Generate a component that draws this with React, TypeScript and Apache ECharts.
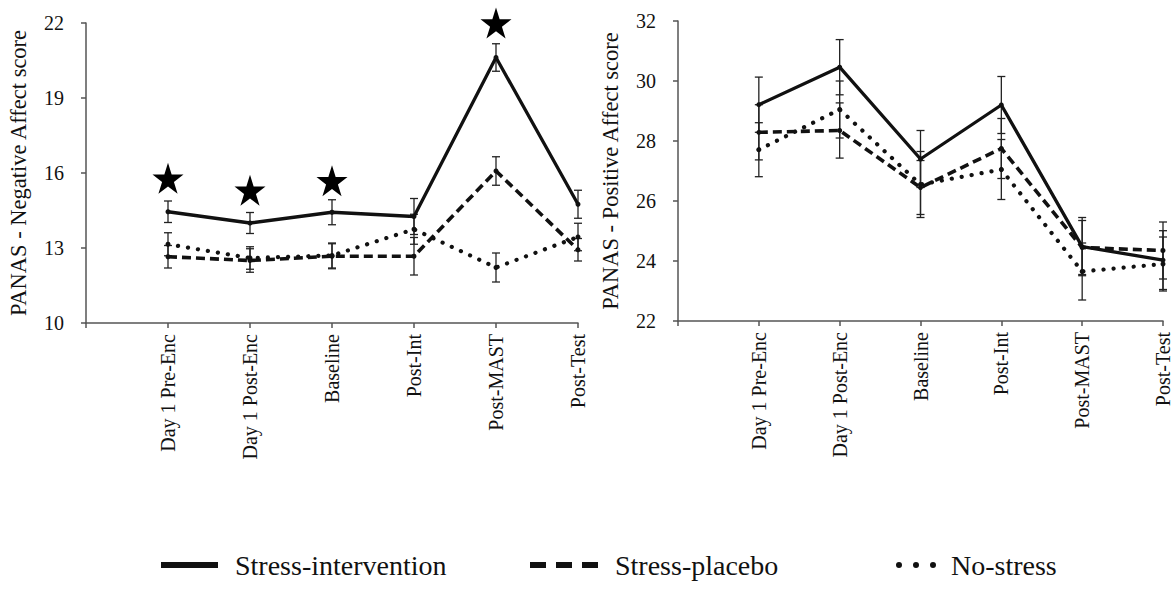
import React, { useEffect, useRef } from "react";
import * as echarts from "echarts";

const CATEGORIES = ["Day 1 Pre-Enc", "Day 1 Post-Enc", "Baseline", "Post-Int", "Post-MAST", "Post-Test"];
const AXIS_CATEGORIES = ["", ...CATEGORIES];

const SERIES_NAMES = ["Stress-intervention", "Stress-placebo", "No-stress"];

// Negative affect (left panel)
const NA_INTERVENTION = [14.45, 14.0, 14.43, 14.26, 20.62, 14.75];
const NA_INTERVENTION_ERR = [0.43, 0.42, 0.5, 0.72, 0.55, 0.56];
const NA_PLACEBO = [12.65, 12.5, 12.67, 12.67, 16.08, 12.93];
const NA_PLACEBO_ERR = [0.45, 0.47, 0.5, 0.75, 0.57, 0.45];
const NA_NOSTRESS = [13.15, 12.6, 12.7, 13.75, 12.22, 13.44];
const NA_NOSTRESS_ERR = [0.46, 0.45, 0.5, 0.6, 0.58, 0.55];
const NA_STAR_CATEGORY = [1, 2, 3, 5];
const NA_STAR_Y = [15.79, 15.31, 15.69, 22.0];
const NA_TICKS = { min: 10, max: 22, interval: 3 };

// Positive affect (right panel)
const PA_INTERVENTION = [29.21, 30.46, 27.4, 29.2, 24.48, 24.03];
const PA_INTERVENTION_ERR = [0.92, 0.92, 0.95, 0.95, 0.97, 0.98];
const PA_PLACEBO = [28.29, 28.35, 26.45, 27.75, 24.45, 24.35];
const PA_PLACEBO_ERR = [0.92, 0.92, 0.9, 1.0, 0.9, 0.95];
const PA_NOSTRESS = [27.71, 29.05, 26.55, 27.05, 23.65, 23.9];
const PA_NOSTRESS_ERR = [0.9, 0.95, 1.1, 1.0, 0.95, 0.9];
const PA_TICKS = { min: 22, max: 32, interval: 2 };

const FONT = "'Liberation Serif', 'Times New Roman', serif";
const INK = "#111";
const AXIS_COLOR = "#555";
const STAR_PATH =
  "path://M50,0L61.2,34.5L97.6,34.5L68.2,55.9L79.4,90.5L50,69.1L20.6,90.5L31.8,55.9L2.4,34.5L38.8,34.5Z";

const LINE_STYLES = [
  { type: "solid", width: 3.3 },
  { type: [9, 5], width: 3.6 },
  { type: [0.1, 10], width: 4.2, cap: "round" },
];

function toPairs(values: number[]) {
  return values.map((v, i) => [i + 1, v]);
}
function toErr(values: number[], errs: number[]) {
  return values.map((v, i) => [i + 1, v - errs[i], v + errs[i]]);
}

function errorRender(params: any, api: any) {
  const x = api.value(0);
  const lo = api.coord([x, api.value(1)]);
  const hi = api.coord([x, api.value(2)]);
  const hw = 4;
  const style = { stroke: "#222", lineWidth: 1.3 };
  return {
    type: "group",
    children: [
      { type: "line", shape: { x1: lo[0], y1: lo[1], x2: hi[0], y2: hi[1] }, style },
      { type: "line", shape: { x1: lo[0] - hw, y1: lo[1], x2: lo[0] + hw, y2: lo[1] }, style },
      { type: "line", shape: { x1: hi[0] - hw, y1: hi[1], x2: hi[0] + hw, y2: hi[1] }, style },
    ],
  };
}

function panelSeries(idx: number, means: number[][], errs: number[][]) {
  const out: any[] = [];
  means.forEach((m, k) => {
    out.push({
      type: "custom",
      name: "err-" + idx + "-" + k,
      xAxisIndex: idx,
      yAxisIndex: idx,
      renderItem: errorRender,
      encode: { x: 0, y: [1, 2] },
      data: toErr(m, errs[k]),
      z: 1,
      silent: true,
    });
  });
  means.forEach((m, k) => {
    out.push({
      type: "line",
      name: SERIES_NAMES[k],
      xAxisIndex: idx,
      yAxisIndex: idx,
      data: toPairs(m),
      symbol: "circle",
      symbolSize: 5,
      itemStyle: { color: INK },
      lineStyle: { color: INK, ...LINE_STYLES[k] },
      z: 3,
    });
  });
  return out;
}

function xAxisFor(gridIndex: number) {
  return {
    type: "category",
    gridIndex,
    data: AXIS_CATEGORIES,
    boundaryGap: false,
    axisLine: { lineStyle: { color: AXIS_COLOR, width: 1.5 } },
    axisTick: { show: true, length: 5, alignWithLabel: true, lineStyle: { color: AXIS_COLOR, width: 1.5 } },
    axisLabel: { rotate: 90, margin: 11, fontFamily: FONT, fontSize: 20, color: INK, interval: 0 },
    splitLine: { show: false },
  };
}

function yAxisFor(gridIndex: number, ticks: any, name: string) {
  return {
    type: "value",
    gridIndex,
    min: ticks.min,
    max: ticks.max,
    interval: ticks.interval,
    name,
    nameLocation: "middle",
    nameGap: 56,
    nameTextStyle: { fontFamily: FONT, fontSize: 22.5, color: INK },
    axisLine: { show: true, lineStyle: { color: AXIS_COLOR, width: 1.5 } },
    axisTick: { show: true, length: 5, lineStyle: { color: AXIS_COLOR, width: 1.5 } },
    axisLabel: { margin: 22, fontFamily: FONT, fontSize: 20, color: INK },
    splitLine: { show: false },
  };
}

const LEGEND_ICONS = [
  "path://M0,0H57V6H0Z",
  "path://M0,0H16V6H0Z M26,0H42V6H26Z M52,0H68V6H52Z",
  "path://M0,3A3,3,0,1,0,6,3A3,3,0,1,0,0,3Z M17,3A3,3,0,1,0,23,3A3,3,0,1,0,17,3Z M34,3A3,3,0,1,0,40,3A3,3,0,1,0,34,3Z",
];
const LEGEND_ICON_SIZE = [
  [57, 6],
  [68, 6],
  [40, 6],
];
const LEGEND_LEFT = [156, 525, 891];
const LEGEND_TEXT_PAD = [12, 12, 10];

export default function App() {
  const ref = useRef<HTMLDivElement>(null);
  useEffect(() => {
    if (!ref.current) return;
    const chart = echarts.init(ref.current, null, { renderer: "svg" });
    const legends = SERIES_NAMES.map((n, k) => ({
      data: [{ name: n, icon: LEGEND_ICONS[k] }],
      left: LEGEND_LEFT[k],
      top: 546,
      itemWidth: LEGEND_ICON_SIZE[k][0],
      itemHeight: LEGEND_ICON_SIZE[k][1],
      itemStyle: { color: INK, borderWidth: 0, opacity: 1 },
      selectedMode: false,
      textStyle: { fontFamily: FONT, fontSize: 28, color: INK, padding: [0, 0, 0, LEGEND_TEXT_PAD[k]] },
    }));
    chart.setOption({
      animation: false,
      backgroundColor: "#fff",
      textStyle: { fontFamily: FONT },
      grid: [
        { left: 86, top: 23, width: 492, height: 300 },
        { left: 678, top: 21, width: 489, height: 300 },
      ],
      xAxis: [xAxisFor(0), xAxisFor(1)],
      yAxis: [
        yAxisFor(0, NA_TICKS, "PANAS - Negative Affect score"),
        yAxisFor(1, PA_TICKS, "PANAS - Positive Affect score"),
      ],
      legend: legends,
      series: [
        ...panelSeries(0, [NA_INTERVENTION, NA_PLACEBO, NA_NOSTRESS], [NA_INTERVENTION_ERR, NA_PLACEBO_ERR, NA_NOSTRESS_ERR]),
        ...panelSeries(1, [PA_INTERVENTION, PA_PLACEBO, PA_NOSTRESS], [PA_INTERVENTION_ERR, PA_PLACEBO_ERR, PA_NOSTRESS_ERR]),
        {
          type: "scatter",
          name: "significant",
          xAxisIndex: 0,
          yAxisIndex: 0,
          symbol: STAR_PATH,
          symbolSize: 31,
          itemStyle: { color: "#000", opacity: 1 },
          data: NA_STAR_CATEGORY.map((c, i) => [c, NA_STAR_Y[i]]),
          clip: false,
          z: 5,
        },
      ],
    });
    return () => chart.dispose();
  }, []);
  return <div ref={ref} style={{ position: "absolute", left: 0, top: 0, width: 1173, height: 591 }} />;
}
